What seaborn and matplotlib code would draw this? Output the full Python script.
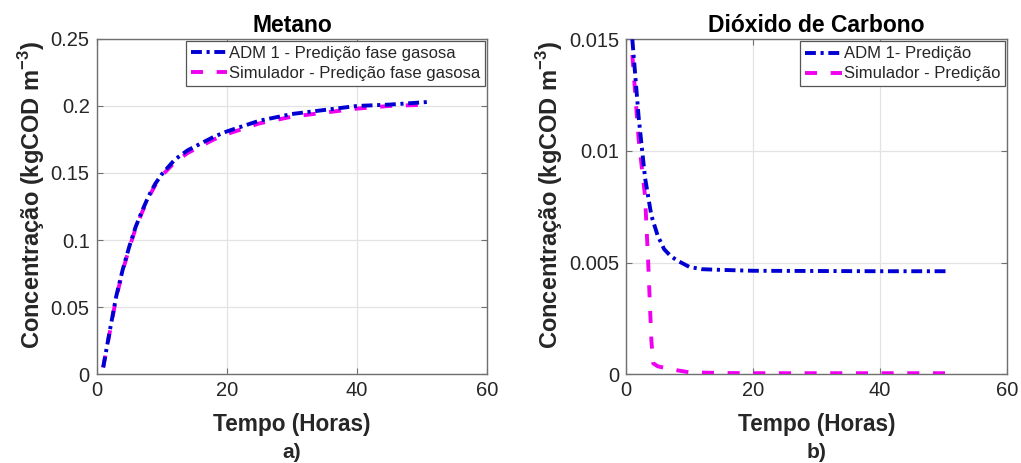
import numpy as np
import pandas as pd
import matplotlib
matplotlib.use("Agg")
import matplotlib.pyplot as plt
import seaborn as sns
from matplotlib.ticker import FuncFormatter, FixedLocator

# ---------------- data ----------------
t_ch4 = [1, 2, 3, 4, 5, 6, 7, 8, 9, 10, 12, 14, 16, 18, 20, 25, 30, 35, 40, 45, 51]
ch4_adm = [0.005, 0.032, 0.058, 0.078, 0.095, 0.110, 0.122, 0.133, 0.142, 0.149,
           0.160, 0.167, 0.172, 0.177, 0.181, 0.189, 0.194, 0.197, 0.200, 0.201, 0.203]
ch4_sim = [0.005, 0.031, 0.057, 0.077, 0.094, 0.109, 0.121, 0.132, 0.141, 0.148,
           0.158, 0.165, 0.170, 0.175, 0.179, 0.187, 0.192, 0.195, 0.198, 0.200, 0.201]

t_co2_adm = [1, 2, 3, 4, 5, 6, 7, 8, 10, 12, 15, 20, 30, 40, 51]
co2_adm = [0.0150, 0.0115, 0.0088, 0.0071, 0.0062, 0.0056, 0.0053, 0.0051, 0.0048,
           0.0047, 0.00467, 0.00463, 0.00462, 0.00461, 0.00461]
t_co2_sim = [1, 2, 3, 3.5, 4, 4.3, 5, 7, 10, 15, 20, 30, 40, 51]
co2_sim = [0.0143, 0.0105, 0.0080, 0.0050, 0.0015, 0.00048, 0.00035, 0.00022,
           0.00008, 0.00005, 0.00004, 0.00004, 0.00004, 0.00004]

x_ticks = [0, 20, 40, 60]
y_ticks_ch4 = [0, 0.05, 0.1, 0.15, 0.2, 0.25]
y_ticks_co2 = [0, 0.005, 0.01, 0.015]

titles = ["Metano", "Dióxido de Carbono"]
labels_ch4 = ["ADM 1 - Predição fase gasosa", "Simulador - Predição fase gasosa"]
labels_co2 = ["ADM 1- Predição", "Simulador - Predição"]
panel_tags = ["a)", "b)"]

# ---------------- style ----------------
sns.set_theme(style="white")
plt.rcParams["font.family"] = ["Liberation Sans", "DejaVu Sans"]
plt.rcParams["mathtext.fontset"] = "custom"
plt.rcParams["mathtext.rm"] = "Liberation Sans"
plt.rcParams["mathtext.bf"] = "Liberation Sans:bold"

BLUE = "#0000D2"
MAG = "#F000F0"
AX_COL = "#707070"
TXT = "#262626"

fig = plt.figure(figsize=(10.21, 4.63), dpi=100)
ax1 = fig.add_axes([0.0947, 0.192, 0.3826, 0.724])
ax2 = fig.add_axes([0.6131, 0.192, 0.3732, 0.723])

dash_adm = (0, (2.8, 1.2, 0.8, 1.2))
dash_sim = (0, (3.1, 3.5))

df1 = pd.DataFrame({"t": t_ch4, "adm": ch4_adm, "sim": ch4_sim})
sns.lineplot(data=df1, x="t", y="adm", ax=ax1, color=BLUE, lw=2.8,
             linestyle=dash_adm, label=labels_ch4[0], zorder=4)
sns.lineplot(data=df1, x="t", y="sim", ax=ax1, color=MAG, lw=2.8,
             linestyle=dash_sim, label=labels_ch4[1], zorder=3)

sns.lineplot(x=t_co2_adm, y=co2_adm, ax=ax2, color=BLUE, lw=2.8,
             linestyle=dash_adm, label=labels_co2[0], zorder=4)
sns.lineplot(x=t_co2_sim, y=co2_sim, ax=ax2, color=MAG, lw=2.8,
             linestyle=dash_sim, label=labels_co2[1], zorder=3)

fmt = FuncFormatter(lambda v, p: "%g" % round(v, 6))

for ax, yt, title, tag in [(ax1, y_ticks_ch4, titles[0], panel_tags[0]),
                           (ax2, y_ticks_co2, titles[1], panel_tags[1])]:
    ax.set_xlim(0, 60)
    ax.set_ylim(yt[0], yt[-1])
    ax.xaxis.set_major_locator(FixedLocator(x_ticks))
    ax.yaxis.set_major_locator(FixedLocator(yt))
    ax.xaxis.set_major_formatter(fmt)
    ax.yaxis.set_major_formatter(fmt)
    ax.grid(True, color="#e3e3e3", lw=0.9)
    ax.set_axisbelow(True)
    for s in ax.spines.values():
        s.set_color(AX_COL)
        s.set_linewidth(1.0)
        s.set_visible(True)
    ax.tick_params(direction="in", length=4, width=0.8, color=AX_COL,
                   labelsize=14.5, labelcolor=TXT, top=True, right=True,
                   bottom=True, left=True, pad=5)
    ax.set_title(title, fontsize=16.5, fontweight="bold", color="black", pad=5)
    ax.set_xlabel("Tempo (Horas)", fontsize=16.3, fontweight="bold", color=TXT,
                  labelpad=9)
    ax.set_ylabel(r"Concentração (kgCOD m$^{\mathbf{-3}}$)", fontsize=17,
                  fontweight="bold", color=TXT, labelpad=3)
    ax.yaxis.label.set_y(0.535)
    ax.text(0.5, -0.233, tag, transform=ax.transAxes, ha="center", va="center",
            fontsize=15, fontweight="bold", color=TXT)
    leg = ax.legend(loc="upper right", fontsize=12, handlelength=2.2,
                    handletextpad=0.1, borderaxespad=0.12, labelspacing=0.3,
                    borderpad=0.3, fancybox=False, framealpha=1,
                    edgecolor="#555555")
    leg.get_frame().set_linewidth(0.9)
    for txt in leg.get_texts():
        txt.set_color(TXT)

fig.savefig("out.png", dpi=100)
